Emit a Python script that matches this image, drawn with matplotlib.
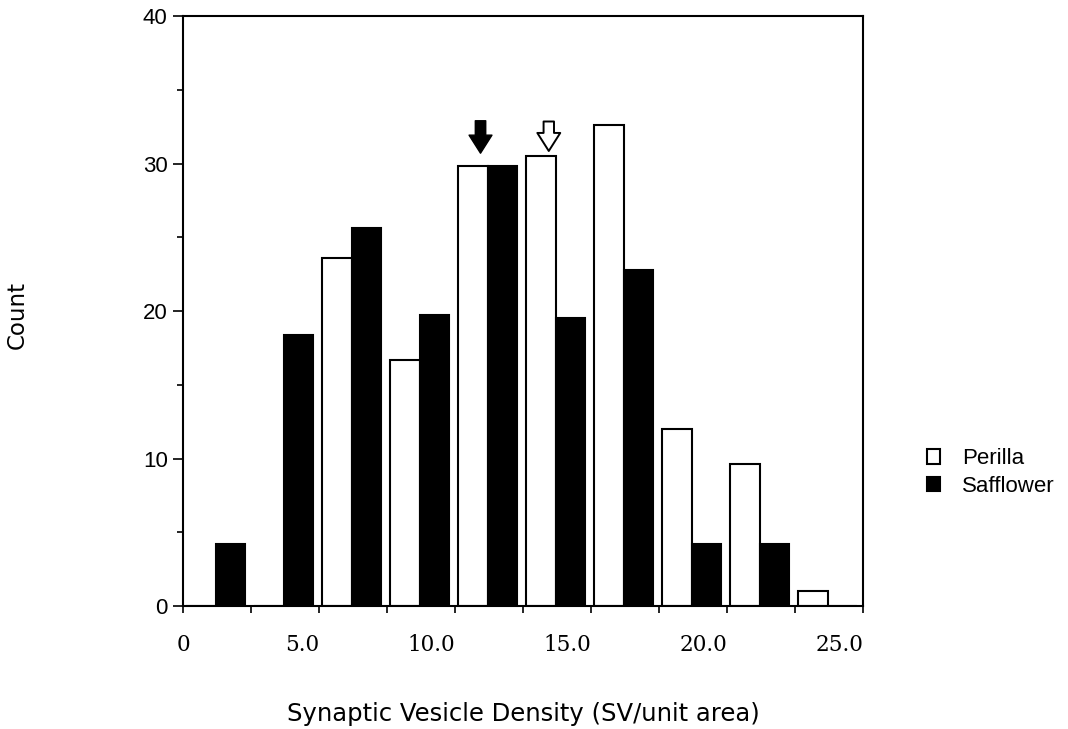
import matplotlib
matplotlib.use("Agg")
import matplotlib.pyplot as plt
import numpy as np

# Data
bin_starts = [0.0, 2.5, 5.0, 7.5, 10.0, 12.5, 15.0, 17.5, 20.0, 22.5]
perilla = [0.0, 0.0, 23.6, 16.7, 29.8, 30.5, 32.6, 12.0, 9.6, 1.0]
safflower = [4.2, 18.4, 25.6, 19.7, 29.8, 19.5, 22.8, 4.2, 4.2, 0.0]
xtick_vals = [0, 5, 10, 15, 20, 25]
xtick_labels = ["0", "5.0", "10.0", "15.0", "20.0", "25.0"]
ytick_vals = [0, 10, 20, 30, 40]
series_names = ["Perilla", "Safflower"]
mean_safflower = 10.94   # filled arrow
mean_perilla = 13.45     # open arrow

fig = plt.figure(figsize=(10.68, 7.29), dpi=100)
ax = fig.add_axes([0.1713, 0.1687, 0.808 - 0.1713, 0.978 - 0.1687])

bw = 1.08
x = np.array(bin_starts) + 1.2
ax.bar(x - bw / 2, perilla, width=bw, color="white", edgecolor="black",
       linewidth=1.5, label=series_names[0])
ax.bar(x + bw / 2, safflower, width=bw, color="black", edgecolor="black",
       linewidth=1.5, label=series_names[1])

ax.set_xlim(0, 25)
ax.set_ylim(0, 40)

# ticks
ax.set_xticks(np.arange(0, 25.01, 2.5))
ax.set_xticklabels([])
ax.tick_params(axis="x", direction="out", length=5, width=1.2)
for v, lab in zip(xtick_vals, xtick_labels):
    ha = "center" if v == 0 else "right"
    ax.text(v, -0.066, lab, transform=ax.get_xaxis_transform(), ha=ha, va="center",
            fontsize=15.5, family="DejaVu Serif")

ax.set_yticks(ytick_vals)
ax.set_yticks([5, 15, 25, 35], minor=True)
ax.tick_params(axis="y", which="major", direction="out", length=7, width=1.2,
               labelsize=16, pad=4)
ax.tick_params(axis="y", which="minor", direction="out", length=4, width=1.2)
for lab in ax.get_yticklabels():
    lab.set_family("Liberation Sans")
for s in ax.spines.values():
    s.set_linewidth(1.5)

# arrows marking the means
astyle = "simple,head_length=1.3,head_width=1.65,tail_width=0.75"
ax.annotate("", xy=(mean_safflower, 30.7), xytext=(mean_safflower, 32.9),
            arrowprops=dict(arrowstyle=astyle, mutation_scale=10,
                            fc="black", ec="black", lw=1.0, shrinkA=0, shrinkB=0))
ax.annotate("", xy=(mean_perilla, 30.85), xytext=(mean_perilla, 32.85),
            arrowprops=dict(arrowstyle=astyle, mutation_scale=10,
                            fc="white", ec="black", lw=1.4, shrinkA=0, shrinkB=0))

fig.text(0.4897, 0.011, "Synaptic Vesicle Density (SV/unit area)", fontsize=17.5,
         ha="center", va="baseline", family="DejaVu Sans")
fig.text(0.016, 0.568, "Count", rotation=90, fontsize=16.5, ha="center", va="center",
         family="DejaVu Sans")

fig.legend(loc="center left", bbox_to_anchor=(0.849, 0.352), frameon=False,
           handlelength=0.6, handleheight=0.6, handletextpad=1.0,
           labelspacing=0.28, prop={"family": "Liberation Sans", "size": 16})

fig.savefig("out.png", dpi=100)
